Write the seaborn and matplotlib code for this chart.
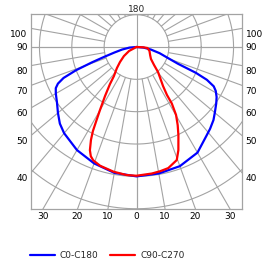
import numpy as np
import pandas as pd
import matplotlib
matplotlib.use("Agg")
import matplotlib.pyplot as plt
import seaborn as sns

# angles from nadir (deg), intensity in grid-ring units
c0_angles = [0, 10, 20, 30, 38, 42, 46.5, 50, 54.7, 58, 61, 63, 65, 66.5, 68, 71, 75, 80, 85, 90]
c0_r = [4.00, 3.97, 3.92, 3.77, 3.50, 3.40, 3.28, 3.16, 3.02, 2.92, 2.80, 2.68, 2.40, 2.00, 1.38, 1.00, 0.74, 0.45, 0.22, 0.0]
c180_angles = [0, 10, 20, 30, 40, 45, 50, 55, 60, 63, 65, 67, 69, 71, 73, 76, 80, 85, 90]
c180_r = [4.00, 3.95, 3.83, 3.68, 3.48, 3.35, 3.17, 3.00, 2.88, 2.80, 2.68, 2.45, 2.00, 1.45, 1.05, 0.70, 0.45, 0.22, 0.0]
c90_angles = [0, 6.9, 10.7, 14.7, 16.7, 19.6, 22.1, 25.4, 27.8, 30.2, 32.0, 32.4, 34.2, 40.7, 44.2, 50.4, 59.3, 72.9, 84.8, 87.4, 90]
c90_r = [3.98, 3.94, 3.91, 3.87, 3.80, 3.71, 3.44, 3.02, 2.73, 2.43, 2.06, 1.76, 1.46, 1.02, 0.78, 0.58, 0.49, 0.42, 0.34, 0.20, 0.0]
c270_angles = [0, 4.4, 10.4, 17, 20.9, 22.7, 24.3, 26.1, 27.4, 28.4, 30.1, 32.7, 35.6, 37.8, 42.9, 47.7, 54.2, 61.9, 90]
c270_r = [3.98, 3.97, 3.92, 3.84, 3.75, 3.66, 3.50, 3.20, 2.93, 2.64, 2.25, 1.80, 1.41, 1.14, 0.89, 0.69, 0.48, 0.26, 0.0]

rings = [1, 2, 3, 4, 5, 6]
bottom_angles = [-30, -20, -10, 0, 10, 20, 30]
bottom_labels = ["30", "20", "10", "0", "10", "20", "30"]
side_angles = [100, 90, 80, 70, 60, 50, 40]
side_labels = ["100", "90", "80", "70", "60", "50", "40"]
plane_names = ["C0-C180", "C90-C270"]
plane_colors = ["#0000ff", "#ff0000"]

XMAX = 3.261
YMIN, YMAX = -5.008, 1.02


def half_curve(angles, r, side):
    a = np.radians(np.asarray(angles, dtype=float)) * side
    r = np.asarray(r, dtype=float)
    return r * np.sin(a), -r * np.cos(a)


rows = []
for name, (la, lr, ra, rr) in zip(
    plane_names,
    [(c180_angles, c180_r, c0_angles, c0_r),
     (c270_angles, c270_r, c90_angles, c90_r)],
):
    lx, ly = half_curve(la, lr, -1)
    rx, ry = half_curve(ra, rr, 1)
    xs = np.concatenate([lx[::-1], rx[1:]])
    ys = np.concatenate([ly[::-1], ry[1:]])
    for i, (x, y) in enumerate(zip(xs, ys)):
        rows.append({"plane": name, "step": i, "x": x, "y": y})
df = pd.DataFrame(rows)

sns.set_theme(style="white")
plt.rcParams["font.family"] = ["DejaVu Sans"]

fig = plt.figure(figsize=(2.75, 2.65), dpi=100)
ax = fig.add_axes([31 / 275, 56 / 265, 211 / 275, 195 / 265])

grid_kw = dict(color="#a3a3a3", lw=0.8, zorder=1)
t = np.linspace(0, 2 * np.pi, 400)
for r in rings:
    ax.plot(r * np.cos(t), r * np.sin(t), **grid_kw)
for deg in range(0, 360, 10):
    a = np.radians(deg)
    ax.plot([np.sin(a), 8 * np.sin(a)], [-np.cos(a), -8 * np.cos(a)], **grid_kw)
ax.axhline(0, **grid_kw)
ax.axvline(0, **grid_kw)

sns.lineplot(
    data=df, x="x", y="y", hue="plane", units="plane",
    palette=dict(zip(plane_names, plane_colors)),
    sort=False, estimator=None, lw=1.6, ax=ax, zorder=3,
)
handles, labels = ax.get_legend_handles_labels()
ax.get_legend().remove()

ax.set_xlim(-XMAX, XMAX)
ax.set_ylim(YMIN, YMAX)
ax.set_xlabel("")
ax.set_ylabel("")

ax.set_xticks([-YMIN * np.tan(np.radians(a)) for a in bottom_angles])
ax.set_xticklabels(bottom_labels)
side_pos = []
for a in side_angles:
    if a == 90:
        side_pos.append(0.0)
    else:
        side_pos.append(-XMAX / np.tan(np.radians(a)) - 0.155)
ax.set_yticks(side_pos)
ax.set_yticklabels(side_labels)
ax.tick_params(axis="both", length=0, labelsize=6.5, pad=2.5, colors="black")
ax.tick_params(axis="y", labelleft=True, labelright=True)

ax.text(0, YMAX, "180", ha="center", va="bottom", fontsize=6.5)

for s in ax.spines.values():
    s.set_color("#a3a3a3")
    s.set_linewidth(0.9)

fig.legend(
    handles, labels, loc="center left", bbox_to_anchor=(30 / 275, 1 - 256 / 265),
    ncol=2, frameon=False, fontsize=6.5, handlelength=2.75, handletextpad=0.55,
    columnspacing=1.3, borderpad=0, borderaxespad=0,
)

fig.savefig("out.png", dpi=100)
plt.close(fig)
